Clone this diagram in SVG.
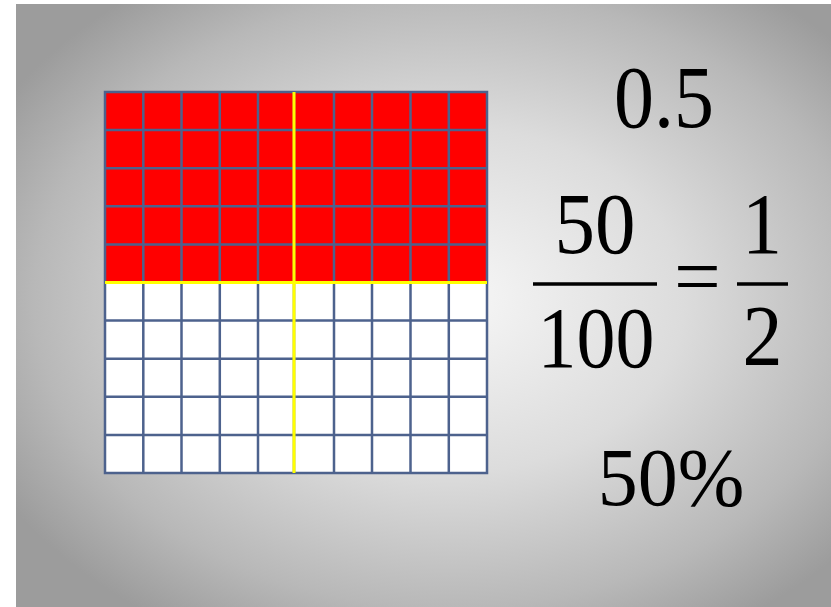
<svg xmlns="http://www.w3.org/2000/svg" width="831" height="607" viewBox="0 0 831 607">
  <defs>
    <radialGradient id="bg" gradientUnits="userSpaceOnUse" cx="450" cy="300" r="520" gradientTransform="translate(450 300) scale(1 0.74) translate(-450 -300)">
      <stop offset="0" stop-color="#f7f7f7"/>
      <stop offset="0.45" stop-color="#dcdcdc"/>
      <stop offset="0.8" stop-color="#b8b8b8"/>
      <stop offset="1" stop-color="#9c9c9c"/>
    </radialGradient>
  </defs>
  <style>
    .grid { stroke: #4d628d; stroke-width: 2.5; fill: none; }
    .half { stroke: #ffff00; stroke-width: 3; }
    .num { font-family: "Liberation Serif", serif; fill: #000; text-anchor: middle; }
    .bar { stroke: #000; stroke-width: 3.5; }
  </style>
  <rect x="0" y="0" width="831" height="607" fill="#ffffff"/>
  <rect x="16" y="4" width="815" height="603" fill="url(#bg)"/>

  <g id="hundred-grid">
    <rect x="105" y="92" width="382" height="190.5" fill="#ff0000"/>
    <rect x="105" y="282.5" width="382" height="190.5" fill="#ffffff"/>
    <path class="grid" d="M105 92H487V473H105Z
      M143.3 92V473 M181.5 92V473 M219.8 92V473 M258 92V473 M294 92V473 M334 92V473 M372 92V473 M410.5 92V473 M448.8 92V473
      M105 130.1H487 M105 168.2H487 M105 206.3H487 M105 244.4H487 M105 320.6H487 M105 358.7H487 M105 396.8H487 M105 434.9H487"/>
    <line class="half" x1="105" y1="282.5" x2="487" y2="282.5"/>
    <line class="half" x1="294" y1="92" x2="294" y2="473"/>
  </g>

  <g id="decimal">
    <text class="num" x="0" y="0" font-size="80" transform="translate(664 127) scale(1 1.12)">0.5</text>
  </g>

  <g id="fraction">
    <text class="num" x="0" y="0" font-size="81" transform="translate(595 253) scale(1 1.07)">50</text>
    <line class="bar" x1="533" y1="284" x2="657" y2="284"/>
    <text class="num" x="0" y="0" font-size="78" transform="translate(596 367) scale(1 1.1)">100</text>
    <text class="num" x="697.5" y="304" font-size="83">=</text>
    <text class="num" x="0" y="0" font-size="80" transform="translate(762 253) scale(1 1.08)">1</text>
    <line class="bar" x1="737" y1="284" x2="788" y2="284"/>
    <text class="num" x="0" y="0" font-size="80" transform="translate(762.5 365) scale(1 1.08)">2</text>
  </g>

  <g id="percent">
    <text class="num" x="0" y="0" font-size="80" transform="translate(671 505) scale(1 1.02)">50%</text>
  </g>
</svg>
